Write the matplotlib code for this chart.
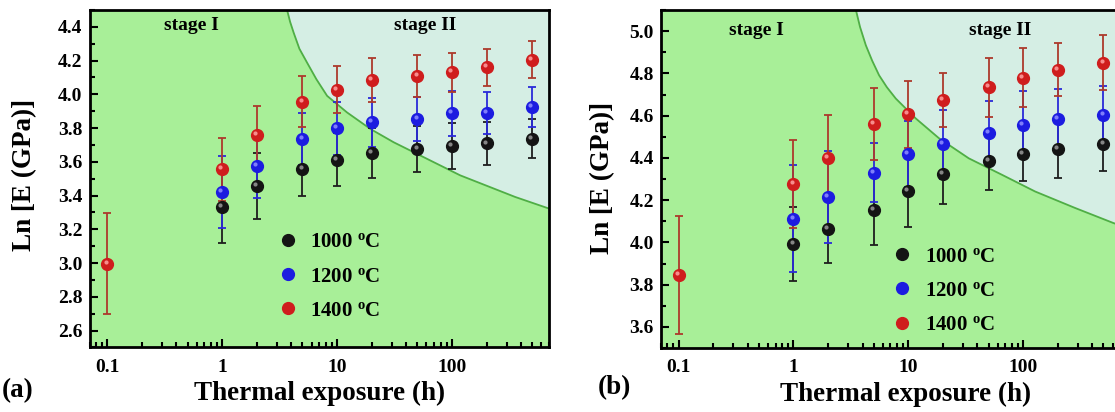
import matplotlib
matplotlib.use('Agg')
import matplotlib.pyplot as plt
from matplotlib.lines import Line2D
from matplotlib.ticker import LogLocator, MultipleLocator, FixedLocator, FixedFormatter
from matplotlib.transforms import offset_copy

plt.rcParams['font.family'] = ['Liberation Serif', 'DejaVu Serif']
plt.rcParams['font.weight'] = 'bold'
plt.rcParams['mathtext.fontset'] = 'custom'
plt.rcParams['mathtext.rm'] = 'Liberation Serif:bold'
plt.rcParams['mathtext.bf'] = 'Liberation Serif:bold'
plt.rcParams['mathtext.it'] = 'Liberation Serif:bold'

# exposure times (h)
hours = [1, 2, 5, 10, 20, 50, 100, 200, 500]
hours_red = [0.1, 1, 2, 5, 10, 20, 50, 100, 200, 500]

# panel (a)
a_1000 = [3.33, 3.455, 3.555, 3.613, 3.65, 3.676, 3.693, 3.709, 3.737]
a_1000_err = [0.213, 0.195, 0.16, 0.155, 0.148, 0.134, 0.135, 0.126, 0.117]
a_1200 = [3.422, 3.573, 3.735, 3.80, 3.835, 3.855, 3.888, 3.89, 3.926]
a_1200_err = [0.215, 0.19, 0.155, 0.157, 0.145, 0.13, 0.134, 0.125, 0.12]
a_1400 = [2.997, 3.555, 3.758, 3.957, 4.028, 4.087, 4.109, 4.13, 4.16, 4.205]
a_1400_err = [0.30, 0.185, 0.17, 0.15, 0.14, 0.13, 0.125, 0.115, 0.11, 0.11]
a_bound_x = [3.67, 3.9, 4.19, 4.7, 5.48, 6.6, 8.19, 12.2, 19.5, 31.1, 60.6, 118, 355, 701]
a_bound_y = [4.50, 4.43, 4.365, 4.27, 4.188, 4.09, 3.991, 3.893, 3.795, 3.716, 3.618, 3.52, 3.392, 3.323]

# panel (b)
b_1000 = [3.993, 4.063, 4.155, 4.243, 4.323, 4.384, 4.419, 4.444, 4.466]
b_1000_err = [0.176, 0.16, 0.169, 0.172, 0.142, 0.134, 0.128, 0.14, 0.126]
b_1200 = [4.111, 4.216, 4.329, 4.419, 4.464, 4.516, 4.557, 4.584, 4.601]
b_1200_err = [0.253, 0.217, 0.14, 0.157, 0.163, 0.152, 0.158, 0.14, 0.138]
b_1400 = [3.847, 4.277, 4.40, 4.562, 4.606, 4.675, 4.734, 4.78, 4.818, 4.851]
b_1400_err = [0.28, 0.21, 0.204, 0.171, 0.16, 0.127, 0.14, 0.14, 0.125, 0.13]
b_bound_x = [3.5, 3.8, 4.27, 4.85, 5.57, 6.5, 7.78, 11.6, 18.5, 33.6, 65.4, 127, 283, 608, 701]
b_bound_y = [5.10, 5.02, 4.933, 4.86, 4.791, 4.735, 4.681, 4.587, 4.493, 4.398, 4.32, 4.241, 4.163, 4.092, 4.08]

xtick_vals = [0.1, 1, 10, 100]
xtick_labels = ['0.1', '1', '10', '100']

stage1_color = '#a8ef98'
stage2_color = '#d5eee4'
bound_color = '#4fae45'

series_style = [
    # ball color, highlight, errorbar color, label
    ('#141414', '#9a9a9a', '#1e1e1e', '1000 $^{\\mathrm{o}}$C'),
    ('#1c1ce0', '#9090ff', '#2a2ad8', '1200 $^{\\mathrm{o}}$C'),
    ('#cf1d1d', '#ffa0a0', '#ad3a2c', '1400 $^{\\mathrm{o}}$C'),
]

fig = plt.figure(figsize=(11.15, 4.12), dpi=100)


def draw_panel(rect, ylim, yticks, data, bound_x, bound_y, stage_pos, ylab_pos,
               xlab_pos, leg_anchor, leg_pad):
    ax = fig.add_axes(rect)
    ax.set_xscale('log')
    ax.set_xlim(0.07, 700)
    ax.set_ylim(*ylim)
    ax.set_facecolor(stage1_color)

    # stage II region and boundary
    ax.fill_between(bound_x, bound_y, ylim[1], color=stage2_color, lw=0, zorder=0.5)
    ax.plot(bound_x, bound_y, color=bound_color, lw=1.3, zorder=0.6)

    handles = []
    for (xs, ys, es), (c, hl, ec, lab) in zip(data, series_style):
        ax.errorbar(xs, ys, yerr=es, fmt='none', ecolor=ec, elinewidth=1.3,
                    capsize=3.2, capthick=1.3, zorder=2)
        ax.plot(xs, ys, 'o', ms=8.5, color=c, mec=c, zorder=3)
        shift = offset_copy(ax.transData, fig=fig, x=-1.3, y=1.4, units='points')
        ax.plot(xs, ys, 'o', ms=3, color=hl, mec='none', alpha=0.85,
                transform=shift, zorder=4)
        handles.append(Line2D([], [], ls='none', marker='o', ms=8.5, color=c, label=lab))

    ax.legend(handles=handles, loc='center left', bbox_to_anchor=leg_anchor,
              frameon=False, fontsize=15, handlelength=1.0, handletextpad=leg_pad,
              borderpad=0, borderaxespad=0, labelspacing=0.68)

    ax.text(stage_pos[0], stage_pos[2], 'stage I', transform=ax.transAxes,
            ha='center', va='center', fontsize=14, fontweight='bold')
    ax.text(stage_pos[1], stage_pos[2], 'stage II', transform=ax.transAxes,
            ha='center', va='center', fontsize=14, fontweight='bold')

    ax.xaxis.set_major_locator(FixedLocator(xtick_vals))
    ax.xaxis.set_major_formatter(FixedFormatter(xtick_labels))
    ax.xaxis.set_minor_locator(LogLocator(base=10, subs=range(2, 10)))
    ax.set_yticks(yticks)
    ax.yaxis.set_major_formatter(plt.FormatStrFormatter('%.1f'))
    ax.yaxis.set_minor_locator(MultipleLocator(0.1))

    ax.tick_params(which='both', direction='in', top=False, right=False,
                   width=1.5, labelsize=14)
    ax.tick_params(which='major', length=6)
    ax.tick_params(which='minor', length=3.5)
    ax.tick_params(axis='x', pad=8)
    ax.tick_params(axis='y', pad=5)
    for s in ax.spines.values():
        s.set_linewidth(2.0)

    ax.set_xlabel('Thermal exposure (h)', fontsize=19.5, fontweight='bold')
    ax.set_ylabel('Ln [E (GPa)]', fontsize=19.5, fontweight='bold')
    ax.xaxis.set_label_coords(xlab_pos[0], xlab_pos[1])
    ax.yaxis.set_label_coords(ylab_pos[0], ylab_pos[1])
    return ax


data_a = [(hours, a_1000, a_1000_err), (hours, a_1200, a_1200_err),
          (hours_red, a_1400, a_1400_err)]
data_b = [(hours, b_1000, b_1000_err), (hours, b_1200, b_1200_err),
          (hours_red, b_1400, b_1400_err)]

draw_panel([0.0803, 0.1566, 0.4121, 0.8192], (2.5, 4.5),
           [2.6, 2.8, 3.0, 3.2, 3.4, 3.6, 3.8, 4.0, 4.2, 4.4],
           data_a, a_bound_x, a_bound_y, (0.221, 0.730, 0.953),
           (-0.114, 0.511), (0.5, -0.1), (0.409, 0.21), 0.56)

draw_panel([0.5926, 0.1553, 0.4121, 0.8204], (3.5, 5.1),
           [3.6, 3.8, 4.0, 4.2, 4.4, 4.6, 4.8, 5.0],
           data_b, b_bound_x, b_bound_y, (0.209, 0.738, 0.94),
           (-0.0995, 0.503), (0.532, -0.1), (0.502, 0.1695), 0.59)

fig.text(0.002, 0.053, '(a)', fontsize=19.5, fontweight='bold', va='center', ha='left')
fig.text(0.536, 0.058, '(b)', fontsize=19.5, fontweight='bold', va='center', ha='left')

fig.savefig('out.png', dpi=100)
